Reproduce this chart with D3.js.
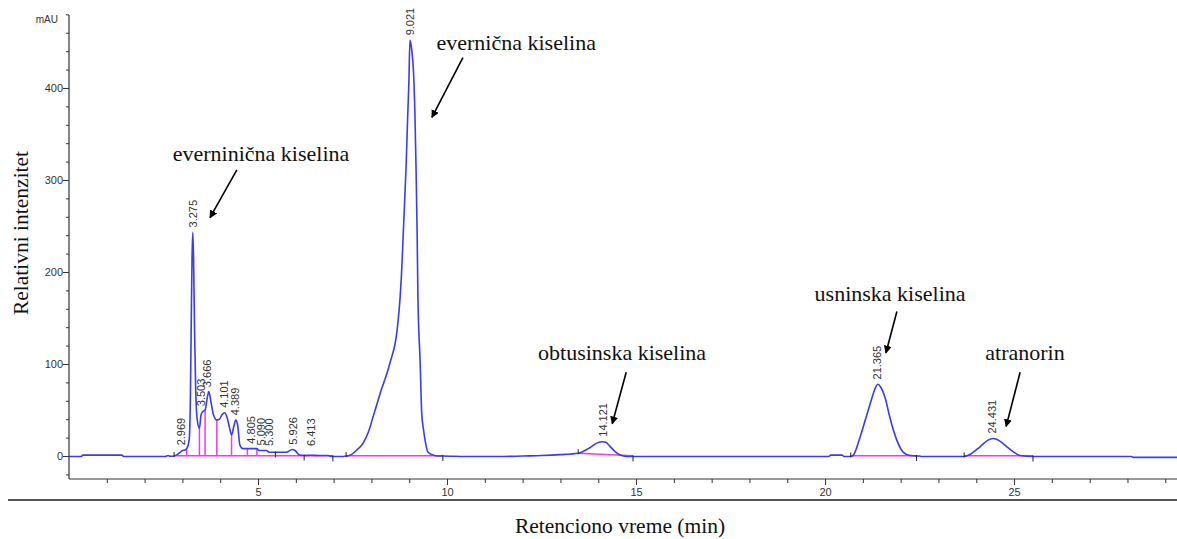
<!DOCTYPE html>
<html>
<head>
<meta charset="utf-8">
<script src="https://cdn.jsdelivr.net/npm/d3@7"></script>
<style>
    body { margin: 0; background: #ffffff; }
    #chromatogram { width: 1177px; height: 539px; }
</style>
</head>
<body>
<div id="chromatogram"></div>
<script>
// retention time (min) and absorbance (mAU)
var trace_times = [0, 0.33, 0.36, 1.40, 1.44, 2.55, 2.62, 2.68, 2.78, 2.88, 2.94, 3.00, 3.07, 3.13, 3.18, 3.21, 3.235, 3.255, 3.275, 3.295,
    3.32, 3.35, 3.39, 3.45, 3.49, 3.53, 3.60, 3.66, 3.70, 3.75, 3.82, 3.91, 3.98, 4.05, 4.12, 4.18, 4.25, 4.30, 4.36, 4.41,
    4.46, 4.52, 4.60, 4.80, 4.97, 5.02, 5.22, 5.30, 5.75, 5.90, 5.98, 6.10, 6.22, 6.40, 6.60, 6.85, 6.95, 7.25, 7.35, 7.45,
    7.60, 7.78, 7.92, 8.04, 8.23, 8.49, 8.68, 8.76, 8.81, 8.84, 8.92, 8.96, 8.99, 9.02, 9.07, 9.11, 9.15, 9.18, 9.21, 9.23,
    9.29, 9.33, 9.38, 9.42, 9.50, 9.63, 9.75, 9.89, 10.5, 11.5, 12.0, 12.5, 13.0, 13.47, 13.78, 13.96, 14.12, 14.20, 14.30, 14.44,
    14.58, 14.75, 15.5, 20.10, 20.15, 20.45, 20.50, 20.68, 20.75, 20.93, 21.10, 21.24, 21.33, 21.40, 21.47, 21.59, 21.72, 21.90, 22.07, 22.25,
    22.42, 22.50, 22.55, 23.68, 23.80, 24.10, 24.30, 24.44, 24.55, 24.81, 25.00, 25.16, 25.50, 28.10, 28.15, 29.31];
var trace_values = [-0.5, -0.5, 1, 1, -0.5, -0.5, 0.5, -0.3, 0, 2, 4, 6, 6.5, 9, 18, 60, 150, 215, 243, 215,
    140, 75, 40, 30, 44, 48, 50, 64, 70, 60, 45, 39, 40, 45, 47, 42, 30, 23, 32, 39,
    34, 12, 8, 8, 8, 6, 6, 4, 4, 7, 6, 1, 0.5, 0.8, 0.5, 0.5, -0.5, -0.5, 0, 1,
    6, 14, 26, 42, 68, 101, 137, 173, 210, 240, 318, 370, 405, 452, 440, 420, 373, 314, 240, 173,
    101, 47, 28, 17, 4, 1, 0, 0, -0.5, -0.5, 0, 0.5, 1.5, 3, 9, 14, 15.5, 15, 11, 5,
    1, -0.5, -0.5, -0.5, 1, 1, -0.5, -0.5, 1, 21, 44, 63, 74, 78, 75, 63, 41, 17, 4, 0.5,
    0, 0, -0.5, -0.5, 1, 10, 17, 19, 18, 10, 4, 0.5, -0.5, -0.5, -1.5, -1.5];

var peak_times = [2.969, 3.275, 3.503, 3.666, 4.101, 4.389, 4.805, 5.090, 5.300, 5.926, 6.413, 9.021, 14.121, 21.365, 24.431];

// integration events
var baseline_starts = [2.78, 7.33, 13.47, 20.68, 23.68];
var baseline_ends = [6.98, 9.89, 14.92, 22.42, 25.50];
var drop_line_times = [3.11, 3.45, 3.60, 3.91, 4.30, 4.72, 4.97];
var event_up_ticks = [2.78, 7.33, 13.47, 20.68, 23.68];
var event_down_ticks = [5.46, 6.22, 6.98, 9.89, 14.92, 22.42, 25.50];

var x_ticks_major = [5, 10, 15, 20, 25];
var y_ticks_major = [0, 100, 200, 300, 400];

var compound_names = ["everninična kiselina", "evernična kiselina", "obtusinska kiselina", "usninska kiselina", "atranorin"];
// label centre and arrow (from -> to), in minutes / mAU
var compound_label_pos = [[5.08, 329], [11.83, 450], [14.63, 113], [21.72, 177], [25.29, 113]];
var compound_arrows = [[4.44, 311, 3.73, 259], [10.42, 433, 9.60, 368], [14.74, 91, 14.37, 35], [21.90, 157, 21.61, 112], [25.16, 91, 24.79, 32]];

var svg = d3.select("#chromatogram").append("svg")
            .attr("width", 1177)
            .attr("height", 539);

var x_scale = d3.scaleLinear().domain([0, 29.31]).range([69, 1177]);
var y_scale = d3.scaleLinear().domain([-25, 479.3]).range([479, 15]);

var trace = trace_times.map(function (t, i) { return [t, trace_values[i]]; });

function value_at(t)
{
    var i = d3.bisector(function (d) { return d[0]; }).left(trace, t);
    if (i <= 0) return trace[0][1];
    if (i >= trace.length) return trace[trace.length - 1][1];
    var a = trace[i - 1], b = trace[i];
    return a[1] + (b[1] - a[1]) * (t - a[0]) / (b[0] - a[0]);
}

var defs = svg.append("defs");
defs.append("marker")
    .attr("id", "arrow_head")
    .attr("viewBox", "0 0 10 10")
    .attr("refX", 9)
    .attr("refY", 5)
    .attr("markerWidth", 8)
    .attr("markerHeight", 8)
    .attr("markerUnits", "userSpaceOnUse")
    .attr("orient", "auto")
    .append("path")
    .attr("d", "M0,0 L10,5 L0,10 Z")
    .attr("fill", "#000");

// axes
var x_axis = d3.axisBottom(x_scale).tickValues(d3.range(1, 30)).tickSize(4)
               .tickFormat(function (d) { return x_ticks_major.indexOf(d) >= 0 ? d : ""; });
var x_group = svg.append("g").attr("transform", "translate(0," + 479 + ")").call(x_axis);
x_group.selectAll(".tick line").attr("y2", function (d) { return x_ticks_major.indexOf(d) >= 0 ? 6 : 4; });

var y_axis = d3.axisLeft(y_scale).tickValues(d3.range(-20, 481, 20)).tickSize(3)
               .tickFormat(function (d) { return y_ticks_major.indexOf(d) >= 0 ? d : ""; });
var y_group = svg.append("g").attr("transform", "translate(" + 69 + ",0)").call(y_axis);
y_group.selectAll(".tick line").attr("x2", function (d) { return y_ticks_major.indexOf(d) >= 0 ? -6 : -3; });

svg.selectAll(".domain").attr("stroke", "#333").attr("stroke-width", 1.2);
svg.selectAll(".tick line").attr("stroke", "#333");
svg.selectAll(".tick text").attr("font-family", "Liberation Sans, Arial, sans-serif")
   .attr("font-size", 11).attr("fill", "#333");
x_group.selectAll(".tick text").attr("dy", "0.9em");
x_group.select(".domain").attr("d", "M69,0H1177");
y_group.select(".domain").attr("d", "M0,15V479");

svg.append("text")
   .attr("x", 58).attr("y", 23)
   .attr("text-anchor", "end")
   .attr("font-family", "Liberation Sans, Arial, sans-serif")
   .attr("font-size", 10).attr("fill", "#333")
   .text("mAU");

// separator below axis
svg.append("line")
   .attr("x1", 8).attr("x2", 1177).attr("y1", 500).attr("y2", 500)
   .attr("stroke", "#555").attr("stroke-width", 2);

// integrated baseline segments
baseline_starts.forEach(function (t0, i) {
    var t1 = baseline_ends[i];
    svg.append("line")
       .attr("x1", x_scale(t0)).attr("y1", y_scale(Math.max(value_at(t0), 0.3)))
       .attr("x2", x_scale(t1)).attr("y2", y_scale(Math.max(value_at(t1), 0.3)))
       .attr("stroke", "#f23ce0").attr("stroke-width", 1.5);
});

svg.selectAll(".drop-line").data(drop_line_times).enter().append("line")
   .attr("class", "drop-line")
   .attr("x1", function (d) { return x_scale(d); })
   .attr("x2", function (d) { return x_scale(d); })
   .attr("y1", y_scale(0.3))
   .attr("y2", function (d) { return y_scale(value_at(d)); })
   .attr("stroke", "#f23ce0").attr("stroke-width", 1.5);

// chromatogram trace
svg.append("path")
   .datum(trace)
   .attr("d", d3.line()
                .x(function (d) { return x_scale(d[0]); })
                .y(function (d) { return y_scale(d[1]); })
                .curve(d3.curveMonotoneX))
   .attr("fill", "none")
   .attr("stroke", "#3b3bf2")
   .attr("stroke-width", 1.6);

// integration event ticks
svg.selectAll(".ev-up").data(event_up_ticks).enter().append("line")
   .attr("x1", function (d) { return x_scale(d); })
   .attr("x2", function (d) { return x_scale(d); })
   .attr("y1", function (d) { return y_scale(value_at(d)) + 1; })
   .attr("y2", function (d) { return y_scale(value_at(d)) - 4; })
   .attr("stroke", "#222").attr("stroke-width", 1);
svg.selectAll(".ev-down").data(event_down_ticks).enter().append("line")
   .attr("x1", function (d) { return x_scale(d); })
   .attr("x2", function (d) { return x_scale(d); })
   .attr("y1", function (d) { return y_scale(value_at(d)) - 1; })
   .attr("y2", function (d) { return y_scale(value_at(d)) + 5; })
   .attr("stroke", "#222").attr("stroke-width", 1);

// peak retention time labels
svg.selectAll(".peak-label").data(peak_times).enter().append("text")
   .attr("transform", function (d) {
       var top = d3.max(d3.range(-0.05, 0.051, 0.01), function (o) { return value_at(d + o); });
       var bottom = Math.min(y_scale(top) - 5, 446);
       return "translate(" + x_scale(d) + "," + bottom + ")rotate(-90)";
   })
   .attr("dy", "0.35em")
   .attr("font-family", "Liberation Sans, Arial, sans-serif")
   .attr("font-size", 11)
   .attr("fill", "#333")
   .text(function (d) { return d.toFixed(3); });

// compound annotations
compound_names.forEach(function (name, i) {
    var pos = compound_label_pos[i];
    svg.append("text")
       .attr("x", x_scale(pos[0])).attr("y", y_scale(pos[1]))
       .attr("dy", "0.35em")
       .attr("text-anchor", "middle")
       .attr("font-family", "Liberation Serif, Times New Roman, serif")
       .attr("font-size", 22)
       .attr("fill", "#111")
       .text(name);

    var arrow = compound_arrows[i];
    svg.append("line")
       .attr("x1", x_scale(arrow[0])).attr("y1", y_scale(arrow[1]))
       .attr("x2", x_scale(arrow[2])).attr("y2", y_scale(arrow[3]))
       .attr("stroke", "#000").attr("stroke-width", 1.6)
       .attr("marker-end", "url(#arrow_head)");
});

svg.append("text")
   .attr("transform", "translate(20,233)rotate(-90)")
   .attr("text-anchor", "middle")
   .attr("dy", "0.35em")
   .attr("font-family", "Liberation Serif, Times New Roman, serif")
   .attr("font-size", 21.5)
   .attr("fill", "#111")
   .text("Relativni intenzitet");

svg.append("text")
   .attr("x", 620).attr("y", 525)
   .attr("text-anchor", "middle")
   .attr("dy", "0.35em")
   .attr("font-family", "Liberation Serif, Times New Roman, serif")
   .attr("font-size", 21.5)
   .attr("fill", "#111")
   .text("Retenciono vreme (min)");
</script>
</body>
</html>
